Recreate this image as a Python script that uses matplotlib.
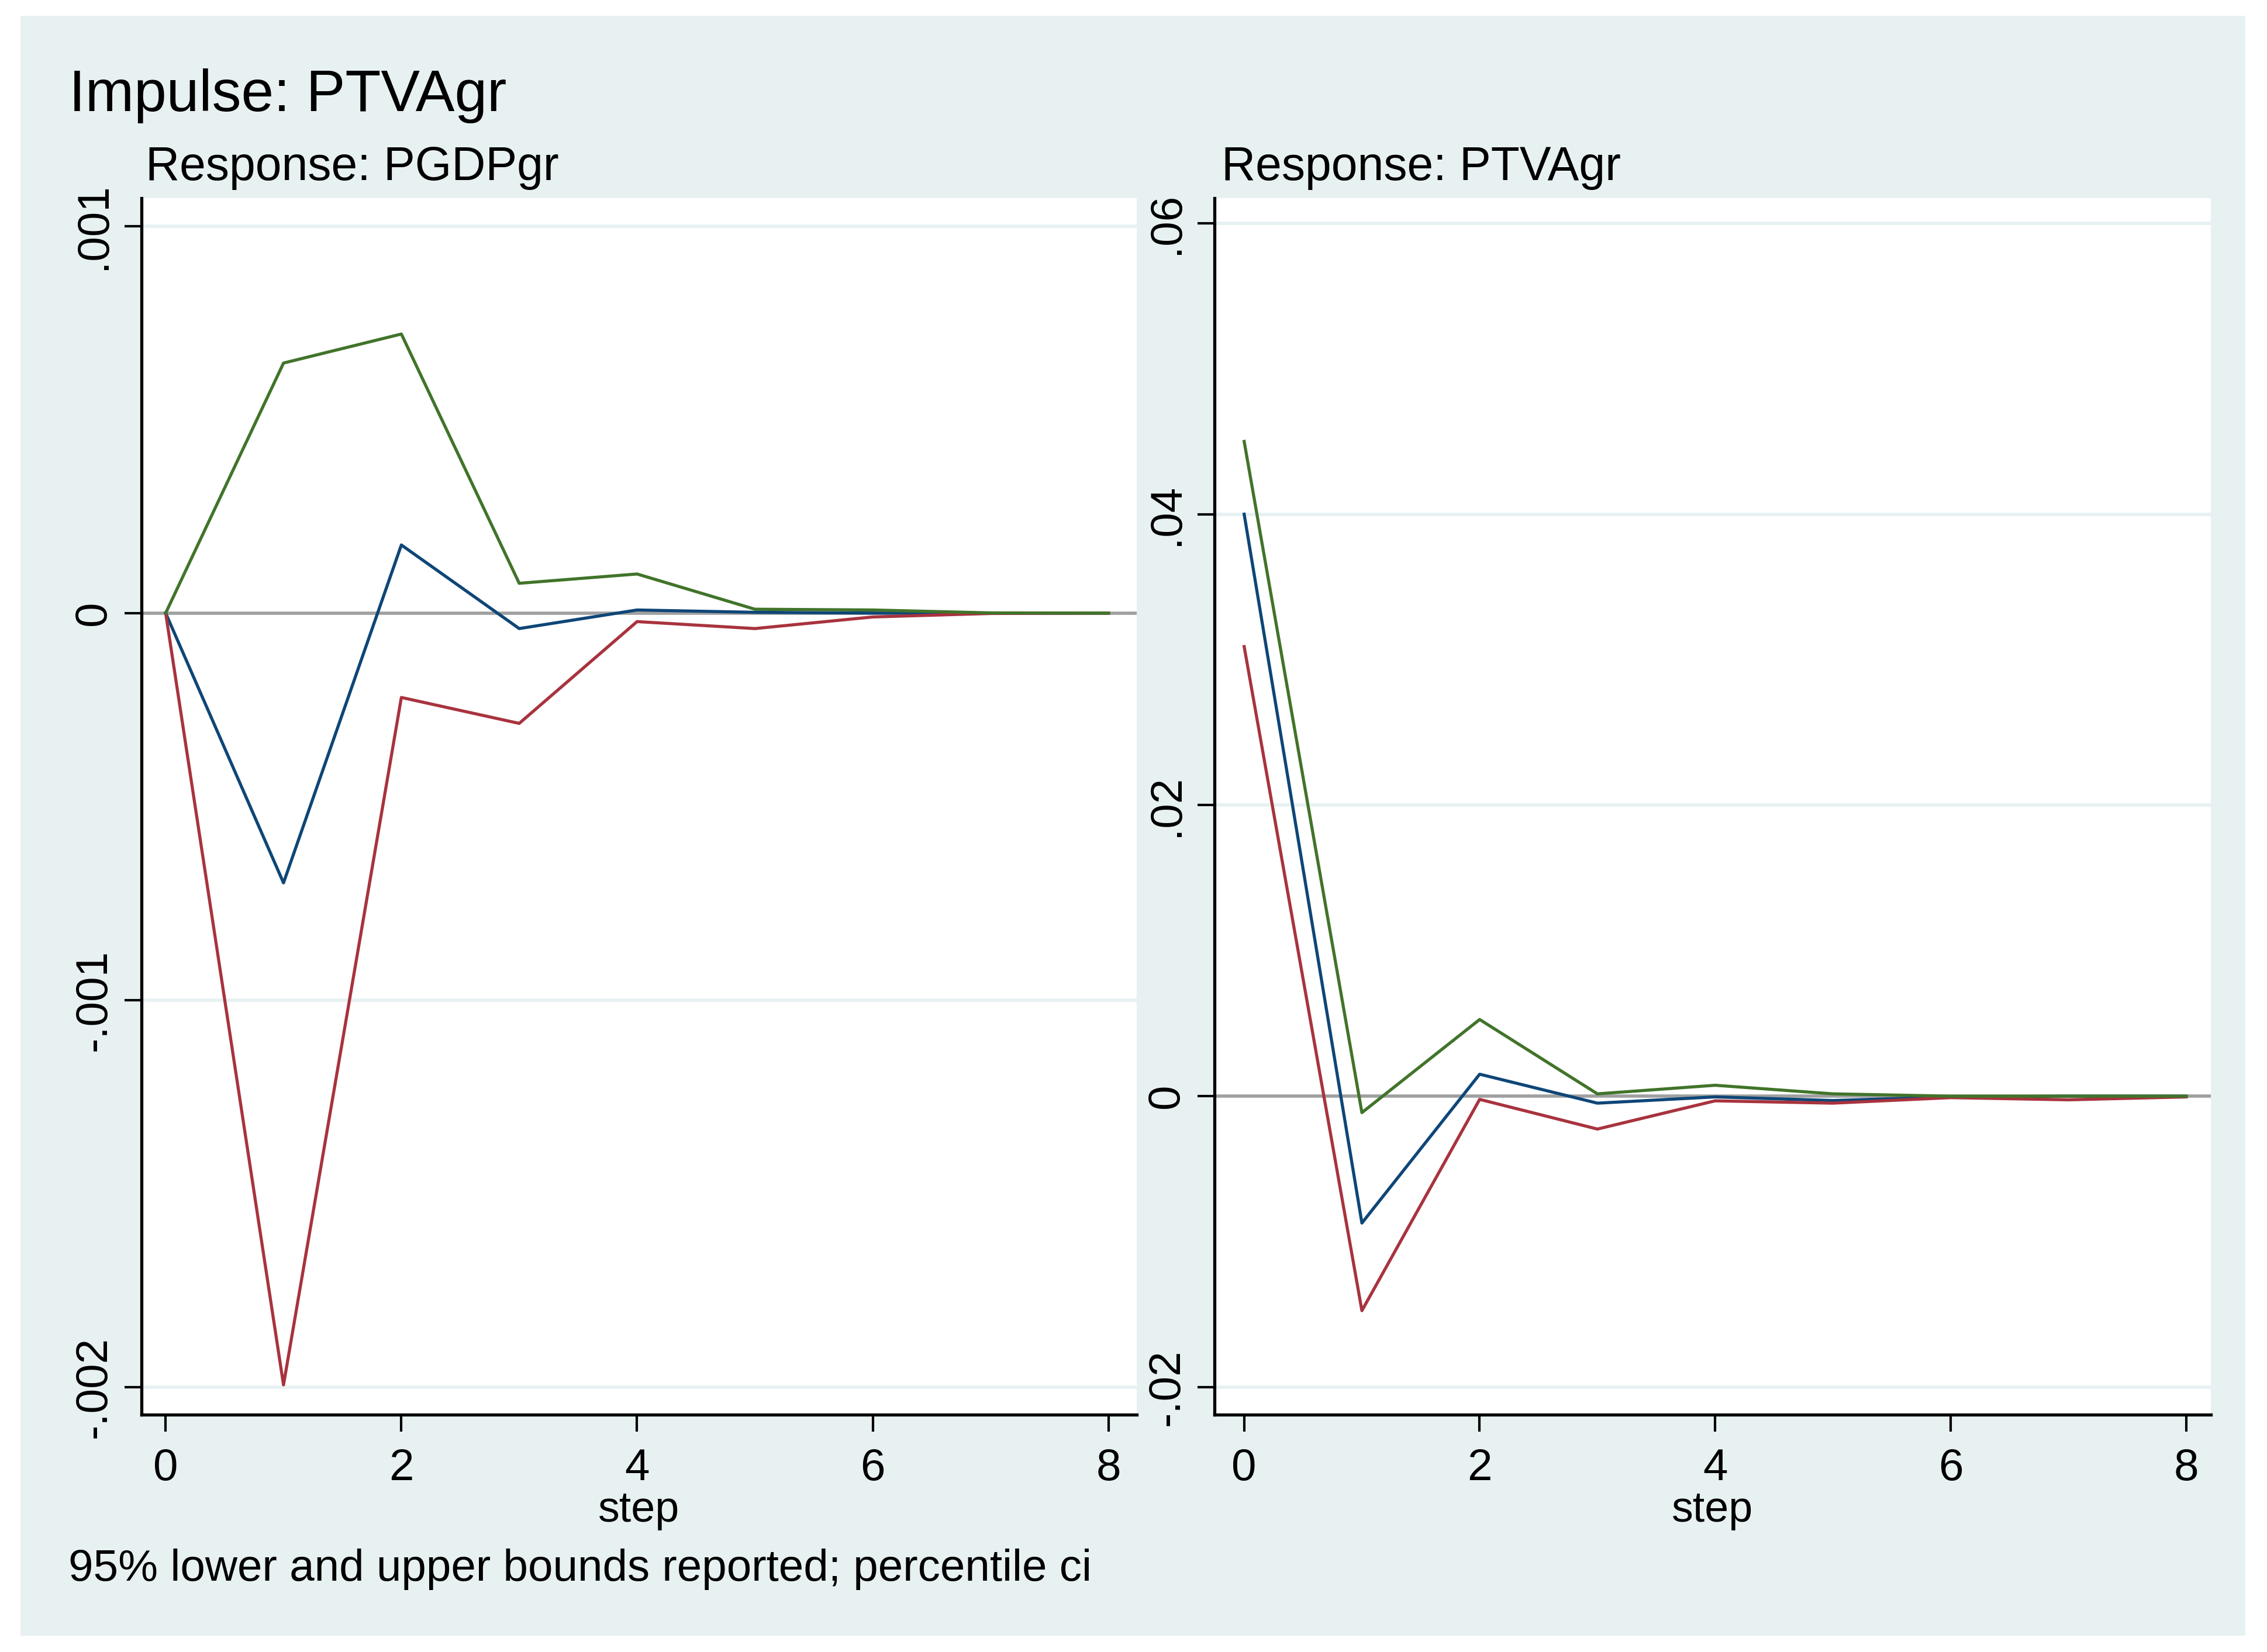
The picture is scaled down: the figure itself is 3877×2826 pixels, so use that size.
import matplotlib
matplotlib.use("Agg")
import matplotlib.pyplot as plt
from matplotlib.patches import Rectangle

plt.rcParams['font.family'] = ['Liberation Sans', 'DejaVu Sans']

# ---- data ----
steps = [0, 1, 2, 3, 4, 5, 6, 7, 8]
xtick_vals = [0, 2, 4, 6, 8]

# Response: PGDPgr
gdp_irf = [0, -0.000697, 0.000176, -0.000040, 0.000008, 0.000002, 0.0, 0.0, 0.0]
gdp_lo = [0, -0.001994, -0.000218, -0.000285, -0.000022, -0.000040, -0.000010, -0.000001, 0.0]
gdp_hi = [0, 0.000646, 0.000721, 0.000077, 0.000101, 0.000010, 0.000008, 0.0000005, 0.0]
gdp_yticks = [-0.002, -0.001, 0, 0.001]
gdp_ylabels = ['-.002', '-.001', '0', '.001']

# Response: PTVAgr
tva_irf = [0.0400, -0.00872, 0.00151, -0.00048, -0.00005, -0.0003, -0.00005, 0.0, 0.0]
tva_lo = [0.0309, -0.01474, -0.00022, -0.00226, -0.00032, -0.00048, -0.0001, -0.00025, -0.00005]
tva_hi = [0.0450, -0.00113, 0.00527, 0.00016, 0.00075, 0.00016, 0.0, 0.0, 0.0]
tva_yticks = [-0.02, 0, 0.02, 0.04, 0.06]
tva_ylabels = ['-.02', '0', '.02', '.04', '.06']

# ---- style ----
W, H = 3877, 2826
BG = '#E8F1F2'
GRID = '#E8F1F2'
C_IRF = '#0E4677'
C_LO = '#A8333E'
C_HI = '#41742A'
LW = 3.8


def px_rect(x0, y0, x1, y1):
    return [x0 / W, 1 - y1 / H, (x1 - x0) / W, (y1 - y0) / H]


fig = plt.figure(figsize=(W / 100, H / 100), dpi=100, facecolor='white')
bg = Rectangle((35 / W, 1 - 2798 / H), (3840 - 35) / W, (2798 - 27) / H,
               transform=fig.transFigure, facecolor=BG, edgecolor='none', zorder=-10)
fig.add_artist(bg)


def panel(rect, irf, lo, hi, yticks, ylabels, xlim, ylim):
    ax = fig.add_axes(rect)
    ax.set_facecolor('white')
    for y in yticks:
        ax.axhline(y, color=GRID, lw=4.2, zorder=1)
    ax.axhline(0, color='#A0A0A0', lw=4.0, zorder=2)
    ax.plot(steps, irf, color=C_IRF, lw=LW, zorder=3)
    ax.plot(steps, lo, color=C_LO, lw=LW, zorder=4)
    ax.plot(steps, hi, color=C_HI, lw=LW, zorder=5)
    ax.set_xlim(*xlim)
    ax.set_ylim(*ylim)
    ax.set_xticks(xtick_vals)
    ax.set_xticklabels([str(v) for v in xtick_vals])
    ax.set_yticks(yticks)
    ax.set_yticklabels(ylabels)
    for s in ['top', 'right']:
        ax.spines[s].set_visible(False)
    for s in ['left', 'bottom']:
        ax.spines[s].set_linewidth(3.8)
        ax.spines[s].set_color('black')
    ax.tick_params(axis='both', direction='out', length=21, width=3, labelsize=55, color='black')
    ax.tick_params(axis='x', pad=20)
    ax.tick_params(axis='y', pad=12)
    plt.setp(ax.get_yticklabels(), rotation=90, va='center')
    ax.set_xlabel('step', fontsize=53)
    ax.xaxis.set_label_coords(0.5, -0.088)
    ax.xaxis.label.set_va('baseline')
    return ax


panel(px_rect(242, 339, 1944, 2420), gdp_irf, gdp_lo, gdp_hi, gdp_yticks, gdp_ylabels,
      (-0.205, 8.24), (-0.002071, 0.001072))
panel(px_rect(2077, 339, 3781, 2420), tva_irf, tva_lo, tva_hi, tva_yticks, tva_ylabels,
      (-0.252, 8.21), (-0.02189, 0.06172))

fig.text(118 / W, 1 - 190 / H, 'Impulse: PTVAgr', fontsize=72, va='baseline', ha='left')
fig.text(249 / W, 1 - 308 / H, 'Response: PGDPgr', fontsize=58, va='baseline', ha='left')
fig.text(2089 / W, 1 - 308 / H, 'Response: PTVAgr', fontsize=58, va='baseline', ha='left')
fig.text(117 / W, 1 - 2704 / H, '95% lower and upper bounds reported; percentile ci',
         fontsize=55, va='baseline', ha='left')

fig.savefig('out.png', dpi=100, facecolor='white')
